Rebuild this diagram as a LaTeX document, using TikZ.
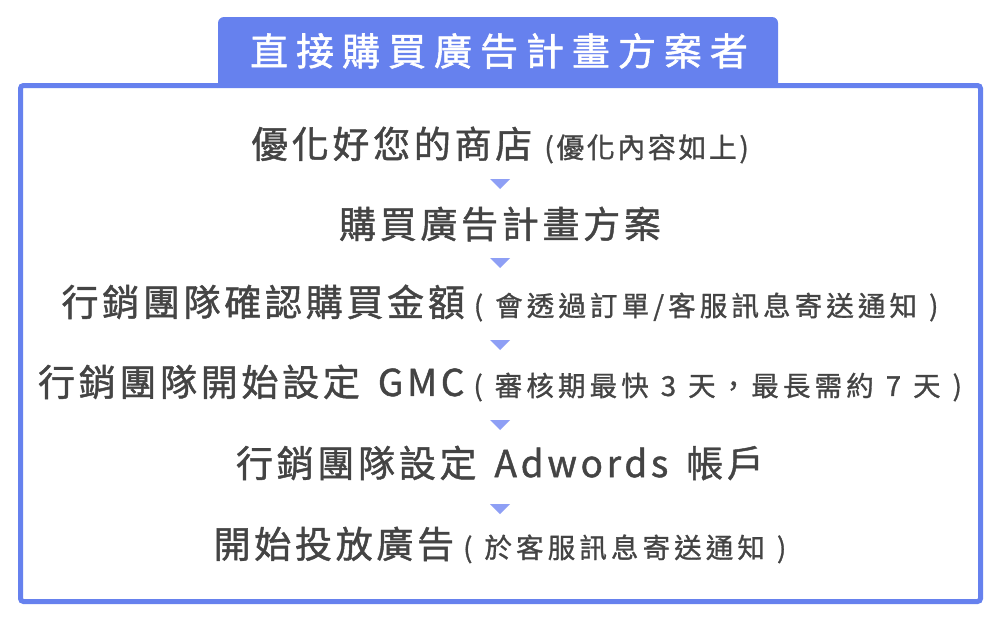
\documentclass[tikz,border=0pt]{standalone}
\usepackage{fontspec}
\setmainfont{Noto Sans CJK TC}
\newfontfamily\bigf[LetterSpace=10,FakeBold=1.2,WordSpace=1.5]{Noto Sans CJK TC}
\newfontfamily\smallf[LetterSpace=15,FakeBold=1,WordSpace=1.17]{Noto Sans CJK TC}
\newfontfamily\smallnf[LetterSpace=9,FakeBold=1]{Noto Sans CJK TC}
\newfontfamily\titlef[LetterSpace=21,FakeBold=1.4]{Noto Sans CJK TC}
\definecolor{boxc}{HTML}{6681EE}
\definecolor{arrc}{HTML}{8E9FF5}
\definecolor{txtc}{HTML}{444444}
\newcommand{\bigt}[1]{{\bigf\fontsize{37}{40}\selectfont #1}}
\newcommand{\smallt}[1]{\hspace{9pt}{\smallf\fontsize{27.5}{30}\selectfont #1}}
\tikzset{
  linetxt/.style={text=txtc, inner sep=0pt, anchor=center},
  downarrow/.style={fill=arrc},
}
\begin{document}
\begin{tikzpicture}[x=1pt,y=-1pt]
\useasboundingbox (0,0) rectangle (1001,621);
% tab
\fill[boxc, rounded corners=6] (218,17) rectangle (778,110);
% main box
\fill[white] (20.5,85.5) rectangle (980.5,601.5);
\draw[boxc, line width=5, rounded corners=3] (20.5,85.5) rectangle (980.5,601.5);
\node[text=white, inner sep=0pt] (title) at (499,51) {\titlef\fontsize{38}{40}\selectfont 直接購買廣告計畫方案者};
% lines
\node[linetxt] (l1) at (500,145) {\bigt{優化好您的商店}\hspace{12pt}{\smallnf\fontsize{28}{30}\selectfont (優化內容如上)}};
\node[linetxt] (l2) at (500,224) {\bigt{購買廣告計畫方案}};
\node[linetxt] (l3) at (500,303) {\bigt{行銷團隊確認購買金額}\smallt{( 會透過訂單/客服訊息寄送通知 )}};
\node[linetxt] (l4) at (500,383) {\bigt{行銷團隊開始設定 GMC}\smallt{( 審核期最快 3 天，最長需約 7 天 )}};
\node[linetxt] (l5) at (500,463) {\bigt{行銷團隊設定 Adwords 帳戶}};
\node[linetxt] (l6) at (500,545) {\bigt{開始投放廣告}\smallt{( 於客服訊息寄送通知 )}};
% arrows
\coordinate (a1) at (500,184);
\coordinate (a2) at (500,263);
\coordinate (a3) at (500,345);
\coordinate (a4) at (500,425);
\coordinate (a5) at (500,509);
\foreach \a in {a1,a2,a3,a4,a5}{
  \fill[downarrow] (\a) ++(-10,-5) -- ++(20,0) -- ++(-10,10) -- cycle;
}
\end{tikzpicture}
\end{document}
